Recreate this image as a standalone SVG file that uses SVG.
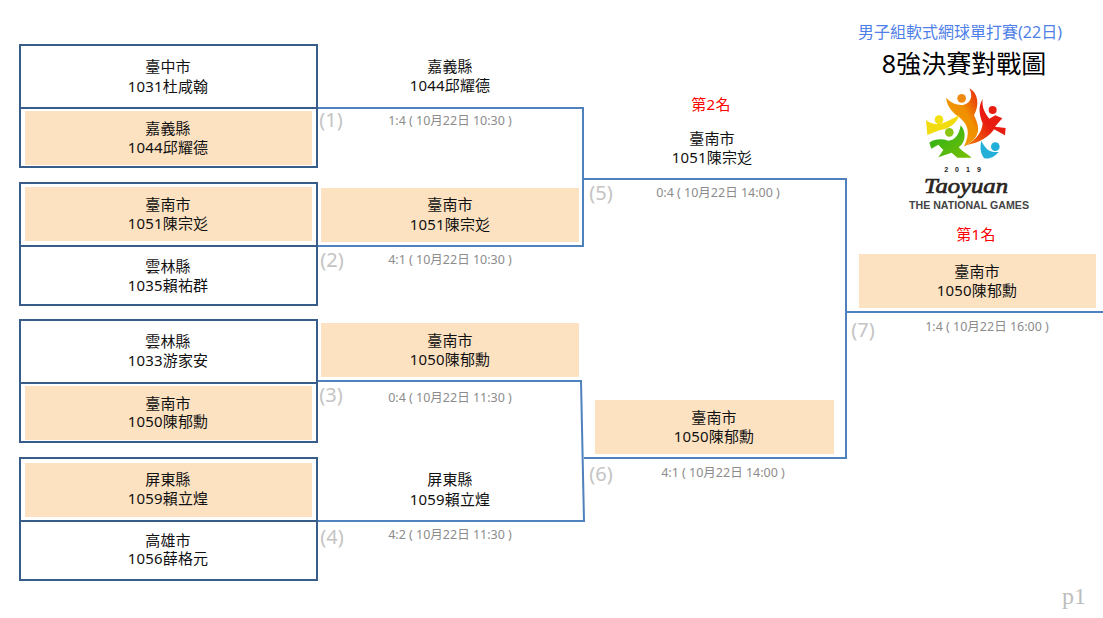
<svg xmlns="http://www.w3.org/2000/svg" width="1103" height="618" viewBox="0 0 1103 618">
<style>
text{font-family:"Noto Sans","Noto Sans CJK TC",sans-serif;text-anchor:middle}
.n{font-size:15px;fill:#111;letter-spacing:.15px}
.s{font-size:12.5px;fill:#8c8c8c}
.r{font-size:20px;fill:#c4c4c4}
.w{font-size:15px;fill:#f00;letter-spacing:.3px}
.box{fill:#fff;stroke:#385d8a;stroke-width:2}
.hl{fill:#fde2c2}
.c{fill:none;stroke:#4f81bd;stroke-width:2}
</style>
<defs>
<linearGradient id="or" x1="0" y1="1" x2="1" y2="0"><stop offset="0" stop-color="#f0a000"/><stop offset=".6" stop-color="#f09000"/><stop offset="1" stop-color="#e82010"/></linearGradient>
<linearGradient id="rd" x1="0" y1="1" x2="1" y2="0"><stop offset="0" stop-color="#f08000"/><stop offset=".5" stop-color="#e81c10"/></linearGradient>
<linearGradient id="gr" x1="0" y1="0" x2="1" y2="1"><stop offset="0" stop-color="#20b020"/><stop offset="1" stop-color="#7ac000"/></linearGradient>
</defs>
<g id="connectors">
<path class="c" d="M317 108H583V246H317"/>
<path class="c" d="M583 179H846V458H584"/>
<path class="c" d="M317 381H581L584 521H317"/>
<path class="c" d="M846 312H1103"/>
</g>
<g id="m1"><rect class="box" x="20" y="45" width="297" height="122"/><path class="box" d="M20 108H317"/><rect class="hl" x="25" y="111" width="287" height="54"/>
<text class="n" x="168" y="72">臺中市</text><text class="n" x="168" y="92">1031杜咸翰</text><text class="n" x="168" y="134">嘉義縣</text><text class="n" x="168" y="153">1044邱耀德</text></g>
<g id="m2"><rect class="box" x="20" y="183" width="297" height="122"/><path class="box" d="M20 246H317"/><rect class="hl" x="25" y="187" width="287" height="54"/>
<text class="n" x="168" y="210">臺南市</text><text class="n" x="168" y="229">1051陳宗彣</text><text class="n" x="168" y="272">雲林縣</text><text class="n" x="168" y="291">1035賴祐群</text></g>
<g id="m3"><rect class="box" x="20" y="320" width="297" height="122"/><path class="box" d="M20 383H317"/><rect class="hl" x="25" y="386" width="287" height="54"/>
<text class="n" x="168" y="347">雲林縣</text><text class="n" x="168" y="366">1033游家安</text><text class="n" x="168" y="409">臺南市</text><text class="n" x="168" y="427">1050陳郁勳</text></g>
<g id="m4"><rect class="box" x="20" y="458" width="297" height="122"/><path class="box" d="M20 521H317"/><rect class="hl" x="25" y="463" width="287" height="54"/>
<text class="n" x="168" y="485">屏東縣</text><text class="n" x="168" y="504">1059賴立煌</text><text class="n" x="168" y="546">高雄市</text><text class="n" x="168" y="564">1056薛格元</text></g>
<g id="r1"><text class="n" x="450" y="72">嘉義縣</text><text class="n" x="450" y="91">1044邱耀德</text><text class="r" x="331" y="127">(1)</text><text class="s" x="450" y="125">1:4 ( 10月22日 10:30 )</text></g>
<g id="r2"><rect class="hl" x="321" y="188" width="258" height="54"/><text class="n" x="450" y="210">臺南市</text><text class="n" x="450" y="230">1051陳宗彣</text><text class="r" x="332" y="267">(2)</text><text class="s" x="450" y="264">4:1 ( 10月22日 10:30 )</text></g>
<g id="r3"><rect class="hl" x="321" y="323" width="258" height="54"/><text class="n" x="450" y="346">臺南市</text><text class="n" x="450" y="365">1050陳郁勳</text><text class="r" x="331" y="402">(3)</text><text class="s" x="450" y="402">0:4 ( 10月22日 11:30 )</text></g>
<g id="r4"><text class="n" x="450" y="485">屏東縣</text><text class="n" x="450" y="505">1059賴立煌</text><text class="r" x="332" y="544">(4)</text><text class="s" x="450" y="539">4:2 ( 10月22日 11:30 )</text></g>
<g id="r5"><text class="w" x="711" y="110">第2名</text><text class="n" x="712" y="144">臺南市</text><text class="n" x="712" y="163">1051陳宗彣</text><text class="r" x="601" y="200">(5)</text><text class="s" x="718" y="197">0:4 ( 10月22日 14:00 )</text></g>
<g id="r6"><rect class="hl" x="595" y="400" width="239" height="54"/><text class="n" x="714" y="423">臺南市</text><text class="n" x="714" y="442">1050陳郁勳</text><text class="r" x="601" y="481">(6)</text><text class="s" x="723" y="477">4:1 ( 10月22日 14:00 )</text></g>
<g id="r7"><text class="w" x="976" y="240">第1名</text><rect class="hl" x="859" y="254" width="237" height="54"/><text class="n" x="977" y="277">臺南市</text><text class="n" x="977" y="296">1050陳郁勳</text><text class="r" x="863" y="337">(7)</text><text class="s" x="987" y="331">1:4 ( 10月22日 16:00 )</text></g>
<g id="title"><text x="960" y="38" font-size="16" fill="#4f7fe8">男子組軟式網球單打賽(22日)</text><text x="964" y="73" font-size="25" fill="#000">8強決賽對戰圖</text></g>
<g id="logo"><g transform="translate(840 10) scale(.3333)">
<circle cx="365" cy="265" r="13" fill="#ef8a10"/>
<path fill="url(#or)" d="M388 235C414 248 420 285 402 316C418 350 428 380 372 410C392 368 385 345 358 322C342 310 322 295 318 263C335 280 352 287 372 284C392 280 400 258 388 235Z"/>
<circle cx="458" cy="300" r="12" fill="#e81c10"/>
<path fill="url(#rd)" d="M428 268C412 292 420 320 428 340C426 365 412 388 378 406C420 398 448 380 462 358L495 376L497 354L465 350L487 325L466 316L448 326C434 310 425 290 428 268Z"/>
<circle cx="297" cy="329" r="13" fill="#f4e010"/>
<path fill="#f2dc10" d="M258 330C275 345 300 345 322 334L358 316C350 340 328 358 300 360L262 375Z"/>
<circle cx="328" cy="367" r="13" fill="#8cc414"/>
<path fill="url(#gr)" d="M362 346C380 365 378 398 356 412C368 425 382 432 395 443H352L335 428L295 442L310 420L295 404L274 416L268 398C285 386 305 386 325 392C345 392 358 372 362 346Z"/>
<circle cx="466" cy="410" r="13" fill="#22b0d8"/>
<path fill="#22b0d8" d="M424 392C438 420 450 428 476 426C465 440 445 450 432 444C420 428 420 410 424 392Z"/>
</g>
<text x="966" y="172" font-size="7" font-weight="700" letter-spacing="7" fill="#222" style="font-family:'Liberation Sans',sans-serif">2019</text>
<text x="966" y="193" font-size="22" font-style="italic" fill="#2a2522" stroke="#2a2522" stroke-width=".7" textLength="84" lengthAdjust="spacingAndGlyphs" style="font-family:'Liberation Serif',serif">Taoyuan</text>
<text x="969" y="209" font-size="10" font-weight="700" fill="#444" textLength="120" lengthAdjust="spacingAndGlyphs" style="font-family:'Liberation Sans',sans-serif">THE NATIONAL GAMES</text></g>
<text x="1074" y="604" font-size="24" fill="#bdbdbd" style="font-family:'Liberation Serif',serif">p1</text>
</svg>
